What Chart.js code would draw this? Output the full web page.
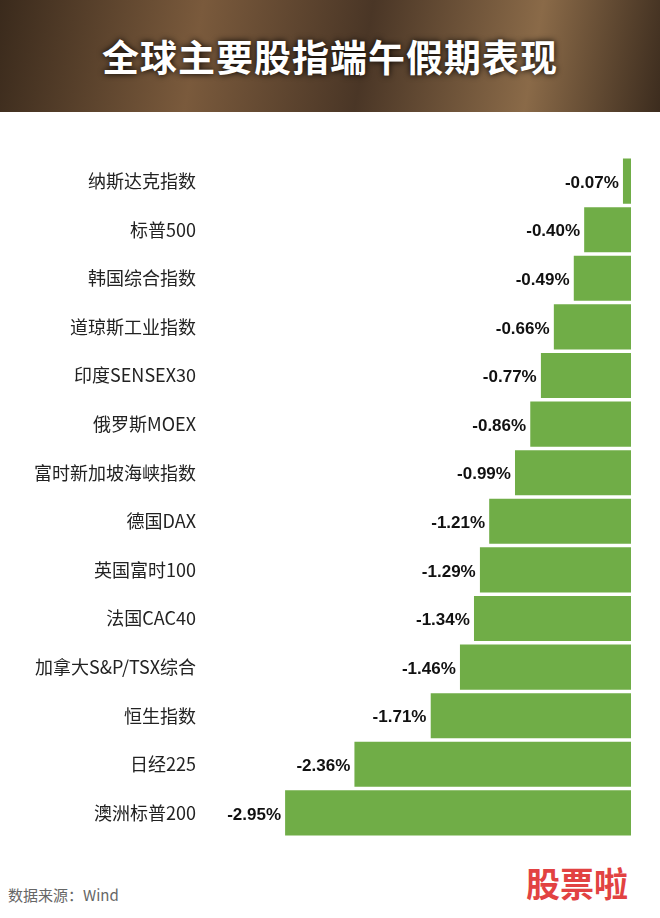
<!DOCTYPE html>
<html><head><meta charset="utf-8">
<script src="https://cdn.jsdelivr.net/npm/chart.js@4"></script>
<style>
body{margin:0;width:660px;height:918px;background:#fff;font-family:"Noto Sans CJK SC",sans-serif;position:relative;overflow:hidden}
#hdr{position:absolute;left:0;top:0;width:660px;height:112px;background:linear-gradient(100deg,#3a2a1c 0%,#7a5a3c 30%,#4a3626 55%,#8a6a48 80%,#3c2c1e 100%)}
#hdr div{color:#fff;font-weight:bold;font-size:37px;text-align:center;line-height:112px;letter-spacing:1px;text-shadow:0 0 6px #000}
#wrap{position:absolute;left:0;top:140px;width:660px;height:714px}
#src{position:absolute;left:8px;top:884px;font-size:15px;color:#666}
#logo{position:absolute;right:32px;top:858px;font-size:34px;font-weight:bold;color:#d22;opacity:.85}
</style></head><body>
<div id="hdr"><div>全球主要股指端午假期表现</div></div>
<div id="wrap"><canvas id="c"></canvas></div>
<div id="src">数据来源：Wind</div>
<div id="logo">股票啦</div>
<script>
const categories = ['纳斯达克指数','标普500','韩国综合指数','道琼斯工业指数','印度SENSEX30','俄罗斯MOEX','富时新加坡海峡指数','德国DAX','英国富时100','法国CAC40','加拿大S&P/TSX综合','恒生指数','日经225','澳洲标普200'];
const changes = [-0.07,-0.40,-0.49,-0.66,-0.77,-0.86,-0.99,-1.21,-1.29,-1.34,-1.46,-1.71,-2.36,-2.95];

const valueLabels = {
  id: 'valueLabels',
  afterDatasetsDraw(chart) {
    const ctx = chart.ctx;
    ctx.save();
    ctx.font = 'bold 17px "Liberation Sans", Arial';
    ctx.fillStyle = '#111';
    ctx.textAlign = 'right';
    ctx.textBaseline = 'middle';
    chart.getDatasetMeta(0).data.forEach((bar, i) => {
      ctx.fillText(changes[i].toFixed(2) + '%', bar.x - 4, bar.y + 2);
    });
    ctx.restore();
  }
};

new Chart(document.getElementById('c'), {
  type: 'bar',
  data: { labels: categories, datasets: [{ data: changes, backgroundColor: '#70ad47', borderColor: '#ffffff', borderWidth: {top:1,bottom:1}, barPercentage: 1, categoryPercentage: 0.97 }] },
  options: {
    indexAxis: 'y',
    responsive: true,
    maintainAspectRatio: false,
    animation: false,
    layout: { padding: { top: 10, bottom: 10, right: 29, left: 0 } },
    plugins: { legend: { display: false }, tooltip: { enabled: false } },
    scales: {
      x: { min: -3.59, max: 0, display: false },
      y: {
        grid: { display: false }, border: { display: false },
        afterFit(s) { s.width = 210; },
        ticks: { color: '#222', padding: 6, font: { size: 18, family: '"Noto Sans CJK SC"' } }
      }
    }
  },
  plugins: [valueLabels]
});
</script>
</body></html>
